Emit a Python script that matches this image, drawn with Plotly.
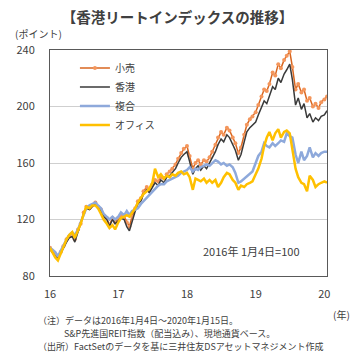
import pandas as pd
import plotly.graph_objects as go

# dates: start 2016-01-04, then semi-monthly to 2020-01-15
dates = ["2016-01-04"] + [d.strftime("%Y-%m-%d") for d in pd.date_range("2016-01-15", "2020-01-15", freq="SMS")]

retail = [100, 98, 95, 93, 97, 101, 106, 108, 110, 106, 113, 117, 125, 129, 128, 130, 132, 129, 127, 123,
          121, 116, 121, 118, 121, 123, 122, 118, 115, 122, 128, 133, 135, 140, 143, 141, 145, 148, 147, 150,
          149, 152, 154, 156, 159, 163, 167, 170, 172, 165, 156, 160, 162, 159, 162, 161, 164, 168, 173, 178,
          182, 180, 185, 183, 178, 174, 167, 171, 180, 187, 191, 193, 196, 201, 207, 212, 211, 216, 224, 222,
          230, 227, 233, 236, 239, 228, 212, 216, 210, 212, 204, 206, 200, 202, 199, 203, 205, 207]
hongkong = [100, 97, 94, 92, 96, 100, 104, 107, 108, 104, 111, 116, 124, 128, 127, 129, 131, 128, 126, 122,
            120, 115, 120, 117, 119, 121, 120, 115, 112, 119, 126, 131, 133, 138, 141, 139, 143, 146, 144, 148,
            146, 150, 151, 153, 156, 160, 164, 166, 168, 161, 152, 156, 158, 155, 158, 156, 160, 164, 168, 173,
            177, 175, 180, 178, 173, 169, 162, 166, 175, 182, 185, 187, 189, 194, 199, 204, 202, 207, 214, 212,
            220, 217, 223, 226, 230, 219, 201, 206, 198, 202, 192, 195, 189, 192, 190, 193, 194, 197]
diversified = [100, 99, 97, 94, 98, 102, 106, 109, 111, 109, 113, 118, 124, 128, 130, 131, 132, 130, 128, 124,
               122, 120, 122, 120, 122, 125, 123, 126, 123, 126, 127, 128, 131, 133, 136, 138, 140, 142, 144, 145,
               145, 147, 148, 149, 150, 151, 153, 154, 155, 157, 154, 156, 155, 157, 158, 159, 158, 160, 162, 161,
               159, 160, 158, 159, 157, 153, 146, 147, 149, 150, 152, 154, 160, 165, 168, 174, 172, 171, 174, 172,
               174, 176, 175, 181, 179, 178, 166, 160, 168, 162, 165, 171, 164, 167, 165, 167, 168, 168]
office = [100, 97, 93, 91, 96, 101, 106, 109, 111, 107, 112, 117, 124, 129, 128, 130, 130, 128, 124, 120,
          117, 114, 116, 113, 118, 121, 122, 123, 122, 125, 128, 132, 135, 138, 140, 142, 146, 156, 150, 152,
          149, 151, 150, 152, 151, 153, 154, 152, 153, 150, 141, 149, 148, 147, 149, 146, 148, 146, 148, 143,
          146, 150, 153, 152, 148, 146, 141, 144, 143, 145, 146, 147, 152, 156, 163, 172, 178, 182, 176, 181,
          184, 178, 182, 183, 181, 170, 156, 150, 146, 145, 140, 151, 148, 143, 145, 146, 147, 146]

names = ["小売", "香港", "複合", "オフィス"]
ytick_vals = [80, 120, 160, 200, 240]
xtick_vals = ["2016-01-04", "2017-01-01", "2018-01-01", "2019-01-01", "2020-01-01"]
xtick_text = ["16", "17", "18", "19", "20"]

FONT = "Noto Sans CJK JP"
TXT = "#404040"

fig = go.Figure()
fig.add_trace(go.Scatter(x=dates, y=retail, name=names[0], mode="lines+markers",
                         line=dict(color="#D9661F", width=1.5),
                         marker=dict(color="#F4965C", size=4)))
fig.add_trace(go.Scatter(x=dates, y=hongkong, name=names[1], mode="lines",
                         line=dict(color="#3A3A3A", width=1.5)))
fig.add_trace(go.Scatter(x=dates, y=diversified, name=names[2], mode="lines",
                         line=dict(color="#8EA9DB", width=2.5)))
fig.add_trace(go.Scatter(x=dates, y=office, name=names[3], mode="lines",
                         line=dict(color="#FFC000", width=2.5)))

fig.update_layout(
    width=355, height=354,
    margin=dict(l=50, r=28, t=50, b=78),
    paper_bgcolor="white", plot_bgcolor="white",
    font=dict(family=FONT, size=11, color=TXT),
    title=dict(text="<b>【香港リートインデックスの推移】</b>", x=0.5, xanchor="center",
               y=0.95, yanchor="middle", font=dict(size=14.5, color=TXT, family=FONT)),
    showlegend=True,
    legend=dict(x=0.09, y=0.985, xanchor="left", yanchor="top", bgcolor="rgba(0,0,0,0)",
                font=dict(size=10, color=TXT), itemwidth=30, tracegroupgap=0),
    xaxis=dict(type="date", range=["2016-01-04", "2020-01-15"], tickvals=xtick_vals, ticktext=xtick_text,
               showgrid=False, showline=True, linecolor="#595959", linewidth=1, mirror=True,
               ticks="outside", ticklen=8, tickcolor="rgba(0,0,0,0)", tickfont=dict(size=11, color=TXT),
               zeroline=False),
    yaxis=dict(range=[80, 240], tickvals=ytick_vals, showgrid=True, gridcolor="#CFCFCF", gridwidth=1,
               showline=True, linecolor="#595959", linewidth=1, mirror=True,
               ticks="outside", ticklen=12, tickcolor="rgba(0,0,0,0)", tickfont=dict(size=11, color=TXT),
               zeroline=False),
)

fig.add_annotation(text="(ポイント)", xref="paper", yref="paper", x=-0.135, y=1.03,
                   xanchor="left", yanchor="bottom", showarrow=False, font=dict(size=10, color=TXT))
fig.add_annotation(text="(年)", xref="paper", yref="paper", x=1.09, y=-0.13,
                   xanchor="right", yanchor="top", showarrow=False, font=dict(size=10, color=TXT))
fig.add_annotation(text="2016年 1月4日=100", xref="paper", yref="paper", x=0.91, y=0.11,
                   xanchor="right", yanchor="middle", showarrow=False, font=dict(size=11, color=TXT))
fig.add_annotation(text="（注）データは2016年1月4日～2020年1月15日。", xref="paper", yref="paper",
                   x=-0.05, y=-0.195, xanchor="left", yanchor="middle", showarrow=False,
                   font=dict(size=9, color=TXT))
fig.add_annotation(text="S&P先進国REIT指数（配当込み）、現地通貨ベース。", xref="paper", yref="paper",
                   x=0.045, y=-0.253, xanchor="left", yanchor="middle", showarrow=False,
                   font=dict(size=9, color=TXT))
fig.add_annotation(text="（出所）FactSetのデータを基に三井住友DSアセットマネジメント作成", xref="paper", yref="paper",
                   x=-0.05, y=-0.31, xanchor="left", yanchor="middle", showarrow=False,
                   font=dict(size=9, color=TXT))

fig.write_html("out.html")
